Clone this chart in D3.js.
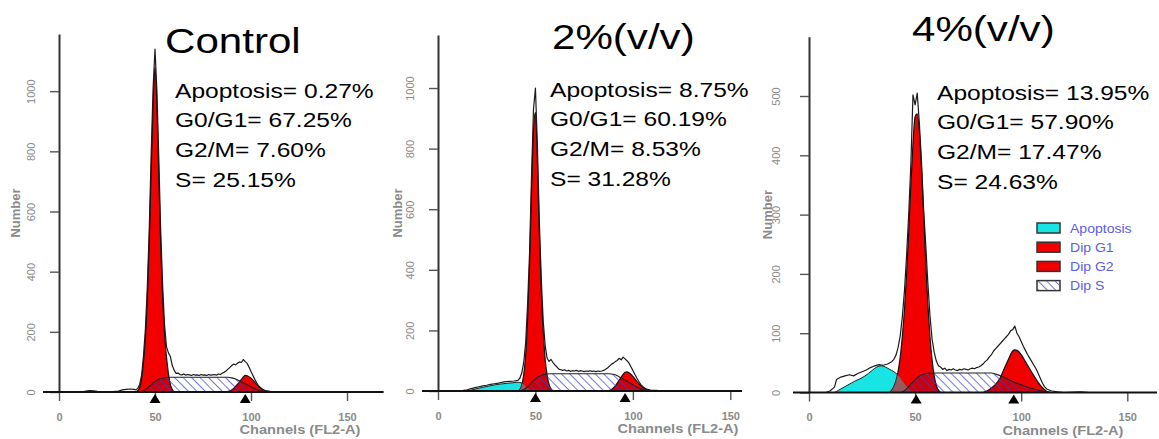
<!DOCTYPE html>
<html>
<head>
<meta charset="utf-8">
<script src="https://cdn.jsdelivr.net/npm/d3@7"></script>
<style>
  body { margin: 0; background: #fff; }
  svg { display: block; font-family: Arial, "Liberation Sans", sans-serif; }
</style>
</head>
<body>
<div id="chart"></div>
<script>
"use strict";
//panel titles and ModFit results
var titles = ["Control", "2%(v/v)", "4%(v/v)"];
var apoptosisPct = ["0.27%", "8.75%", "13.95%"];
var g0g1Pct = ["67.25%", "60.19%", "57.90%"];
var g2mPct = ["7.60%", "8.53%", "17.47%"];
var sPct = ["25.15%", "31.28%", "24.63%"];

//axis extents, channel means of the G1/G2 peaks
var yMax = [1190, 1175, 600];
var yMajor = [200, 200, 100];
var xMax = [169, 156, 164];
var xMajor = [0, 50, 100, 150];
var g1Mean = [50, 50, 50.5];
var g2Mean = [97, 96, 96.5];
var legendLabels = ["Apoptosis", "Dip G1", "Dip G2", "Dip S"];

//raw histograms, [channel, count]
var rawControl = [[0,0],[12,0],[14,3],[16,5],[18,4],[20,2],[22,1],[25,1],[28,1],[31,3],[33,7],[35,9],[37,10],[39,9],[40,7],[41,12],[42,25],[43,55],[44,120],[45,210],[46,350],[47,540],[48,790],[49,1010],[50,1140],[51,1000],[52,770],[53,530],[54,350],[55,220],[56,150],[57,130],[58,118],[59,88],[60,72],[61,62],[62,63],[63,58],[64,57],[65,60],[66,56],[67,58],[68,57],[69,55],[70,58],[71,56],[72,57],[73,55],[74,58],[75,56],[76,57],[77,55],[78,58],[79,56],[80,57],[81,58],[82,56],[83,60],[84,58],[85,62],[86,66],[87,70],[88,76],[89,82],[90,88],[91,93],[92,90],[93,96],[94,100],[95,98],[96,108],[97,101],[98,95],[99,82],[100,68],[101,55],[102,42],[103,30],[104,20],[105,13],[106,8],[107,5],[108,4],[110,2],[112,1],[115,0],[169,0]];
var raw2 = [[0,0],[10,0],[13,2],[15,4],[17,8],[19,11],[21,14],[23,17],[25,19],[27,22],[29,24],[31,26],[33,29],[35,31],[37,32],[39,33],[41,35],[42,42],[43,60],[44,95],[45,160],[46,290],[47,460],[48,710],[49,930],[50,1000],[51,810],[52,560],[53,370],[54,230],[55,150],[56,108],[57,98],[58,104],[59,94],[60,86],[61,80],[62,72],[63,70],[64,68],[65,70],[66,66],[67,68],[68,65],[69,67],[70,66],[71,68],[72,65],[73,67],[74,66],[75,64],[76,66],[77,65],[78,67],[79,65],[80,66],[81,64],[82,66],[83,65],[84,66],[85,68],[86,72],[87,76],[88,82],[89,88],[90,92],[91,97],[92,101],[93,108],[94,103],[95,112],[96,106],[97,100],[98,92],[99,80],[100,68],[101,55],[102,43],[103,32],[104,22],[105,15],[106,10],[107,6],[109,3],[112,2],[115,0],[156,0]];
var raw4 = [[0,0],[8,0],[10,3],[12,9],[13,22],[15,26],[17,28],[19,30],[21,28],[23,32],[25,35],[27,38],[29,42],[31,45],[33,47],[35,46],[37,48],[39,52],[40,56],[41,63],[42,76],[43,96],[44,128],[45,172],[46,232],[47,302],[48,385],[49,502],[50,485],[51,505],[52,455],[53,390],[54,310],[55,250],[56,185],[57,130],[58,90],[59,68],[60,53],[61,45],[62,43],[63,39],[64,41],[65,37],[66,39],[67,38],[68,40],[69,38],[70,37],[71,39],[72,38],[73,40],[74,39],[75,38],[76,40],[77,41],[78,40],[79,42],[80,43],[81,45],[82,48],[83,52],[84,55],[85,60],[86,64],[87,70],[88,74],[89,78],[90,82],[91,86],[92,90],[93,94],[94,98],[95,104],[96,106],[97,112],[98,100],[99,94],[100,86],[101,78],[102,71],[103,64],[104,58],[105,52],[106,46],[107,40],[108,32],[109,24],[110,16],[111,10],[112,6],[114,3],[117,1],[120,0],[128,1],[132,0],[164,0]];

//fitted components
var g1Control = [[40,0],[41,5],[42,15],[43,42],[44,100],[45,180],[46,310],[47,500],[48,730],[49,950],[50,1080],[51,950],[52,710],[53,480],[54,310],[55,190],[56,115],[57,60],[58,25],[59,8],[60,0]];
var g1_2 = [[41,0],[42,5],[43,20],[44,55],[45,120],[46,240],[47,420],[48,660],[49,860],[50,920],[51,760],[52,520],[53,330],[54,195],[55,105],[56,52],[57,22],[58,7],[59,0]];
var g1_4 = [[38,0],[39,4],[40,10],[41,20],[42,36],[43,60],[44,95],[45,140],[46,200],[47,270],[48,350],[49,420],[50,465],[51,470],[52,440],[53,380],[54,300],[55,220],[56,150],[57,95],[58,55],[59,28],[60,12],[61,4],[62,0]];

var g2Control = [[87,0],[89,4],[91,12],[93,26],[95,42],[96,50],[97,55],[98,54],[100,46],[102,32],[104,19],[106,9],[108,3],[110,0]];
var g2_2 = [[87,0],[89,5],[91,17],[93,36],[95,55],[96,62],[97,63],[98,60],[100,48],[102,32],[104,18],[106,8],[108,3],[110,0]];
var g2_4 = [[82,0],[85,5],[88,14],[90,24],[92,40],[94,56],[96,70],[97,72],[98,71],[100,64],[102,52],[104,40],[106,28],[108,17],[110,8],[112,2],[114,0]];

var sControl = [[42,0],[44,4],[46,12],[48,24],[50,35],[52,42],[54,46],[56,48],[58,49],[88,49],[90,47],[92,43],[94,37],[96,31],[98,24],[100,17],[102,11],[104,6],[106,2],[108,0]];
var s2 = [[42,0],[44,5],[46,14],[48,28],[50,40],[52,49],[54,54],[56,56],[58,57],[88,57],[90,55],[92,50],[94,43],[96,36],[98,28],[100,20],[102,13],[104,7],[106,3],[108,0]];
var s4 = [[43,0],[45,3],[47,10],[49,18],[51,25],[53,30],[55,32],[57,33],[86,33],[88,31],[91,27],[94,22],[97,17],[100,13],[103,9],[106,6],[109,3],[112,1],[114,0]];

var apopControl = [];
var apop2 = [[15,0],[17,3],[20,8],[23,12],[26,16],[29,20],[32,23],[35,25],[38,27],[41,29],[43,26],[45,15],[47,5],[49,0]];
var apop4 = [[12,0],[14,4],[16,8],[18,12],[20,16],[22,20],[24,23],[26,27],[28,32],[30,38],[32,43],[34,45],[36,43],[38,39],[40,35],[42,29],[44,20],[46,10],[48,3],[50,0]];

var raws = [rawControl, raw2, raw4];
var g1s = [g1Control, g1_2, g1_4];
var g2s = [g2Control, g2_2, g2_4];
var ss = [sControl, s2, s4];
var apops = [apopControl, apop2, apop4];

//pixel frames of the three plots (the source image is stretched ~1.17x horizontally)
var frames = [
  { left: 59, right: 383.5, top: 34, bottom: 392, title: [165, 53], stats: [175, 97.5], xLabel: 300, numX: -44, tickX: -28 },
  { left: 438, right: 742, top: 35, bottom: 391, title: [552, 49], stats: [550, 96.5], xLabel: 678, numX: -41, tickX: -28 },
  { left: 809, right: 1157, top: 36.7, bottom: 392.5, title: [912, 41], stats: [937, 99.5], xLabel: 1063, numX: -42, tickX: -33 }
];
var stretch = 1.17;
var red = "#f20000", cyan = "#18e4e4", gray = "#8a8a8a";

var svg = d3
  .select("#chart")
  .append("svg")
  .attr("width", 1159)
  .attr("height", 439);

var defs = svg.append("defs");
defs
  .append("pattern")
  .attr("id", "hatch")
  .attr("patternUnits", "userSpaceOnUse")
  .attr("width", 6)
  .attr("height", 6)
  .attr("patternTransform", "rotate(-45)")
  .append("line")
  .attr("x1", 0).attr("y1", 0)
  .attr("x2", 0).attr("y2", 6)
  .attr("stroke", "#3c3cc4")
  .attr("stroke-width", 1.4);

function drawPanel(i) {
  var f = frames[i];
  var x = d3.scaleLinear().domain([0, xMax[i]]).range([f.left, f.right]);
  var y = d3.scaleLinear().domain([0, yMax[i]]).range([f.bottom, f.top]);
  var g = svg.append("g");

  var area = d3
    .area()
    .curve(d3.curveMonotoneX)
    .x(function(d) { return x(d[0]); })
    .y0(y(0))
    .y1(function(d) { return y(d[1]); });
  var line = d3
    .line()
    .x(function(d) { return x(d[0]); })
    .y(function(d) { return y(d[1]); });

  //clip paths so overlaps can be tinted
  defs.append("clipPath").attr("id", "g1clip" + i)
    .append("path").attr("d", area(g1s[i]));
  var redClip = defs.append("clipPath").attr("id", "redclip" + i);
  redClip.append("path").attr("d", area(g1s[i]));
  redClip.append("path").attr("d", area(g2s[i]));

  if (apops[i].length) {
    g.append("path")
      .attr("d", area(apops[i]))
      .attr("fill", cyan)
      .attr("stroke", "#222")
      .attr("stroke-width", 1);
  }
  g.append("path")
    .attr("d", area(g1s[i]))
    .attr("fill", red)
    .attr("stroke", "#111")
    .attr("stroke-width", 1.2);
  g.append("path")
    .attr("d", area(g2s[i]))
    .attr("fill", red)
    .attr("stroke", "#111")
    .attr("stroke-width", 1.2);
  if (apops[i].length) {
    //apoptosis under the G1 peak shows as a brownish mix
    g.append("path")
      .attr("d", area(apops[i]))
      .attr("fill", "rgba(40,200,200,0.45)")
      .attr("clip-path", "url(#g1clip" + i + ")");
  }
  g.append("path")
    .attr("d", area(ss[i]))
    .attr("fill", "rgba(70,0,60,0.22)")
    .attr("clip-path", "url(#redclip" + i + ")");
  g.append("path")
    .attr("d", area(ss[i]))
    .attr("fill", "url(#hatch)")
    .attr("stroke", "#222")
    .attr("stroke-width", 1.1);

  g.append("path")
    .attr("d", line(raws[i]))
    .attr("fill", "none")
    .attr("stroke", "#1a1a1a")
    .attr("stroke-width", 1.2)
    .attr("stroke-linejoin", "round");

  //y axis: minor ticks every fifth of a major step
  var ya = g.append("g").attr("transform", "translate(" + f.left + ",0)");
  ya.call(
    d3.axisLeft(y)
      .tickValues(d3.range(0, yMax[i], yMajor[i] / 5))
      .tickSize(5)
      .tickSizeOuter(0)
      .tickFormat("")
  );
  ya.call(
    d3.axisLeft(y)
      .tickValues(d3.range(0, yMax[i], yMajor[i]))
      .tickSize(9)
      .tickSizeOuter(0)
      .tickFormat(d3.format("d"))
  );
  ya.selectAll(".domain").attr("stroke", "#333").attr("stroke-width", 2);
  ya.selectAll(".tick line").attr("stroke", "#555").attr("stroke-width", 1.4);
  ya.selectAll("text")
    .attr("x", 0)
    .attr("y", 0)
    .attr("dy", "0.35em")
    .attr("text-anchor", "middle")
    .attr("transform", "translate(" + f.tickX + ",0) rotate(-90)")
    .attr("fill", gray)
    .attr("font-size", 11)
    .attr("font-family", "Arial, 'Liberation Sans', sans-serif");

  //x axis
  var xa = g.append("g").attr("transform", "translate(0," + f.bottom + ")");
  xa.call(
    d3.axisBottom(x)
      .tickValues(d3.range(0, xMax[i], 10))
      .tickSize(5)
      .tickSizeOuter(0)
      .tickFormat("")
  );
  xa.call(
    d3.axisBottom(x)
      .tickValues(xMajor)
      .tickSize(9)
      .tickSizeOuter(0)
  );
  xa.selectAll(".domain").remove();
  xa.selectAll(".tick line").attr("stroke", "#555").attr("stroke-width", 1.4);
  xa.selectAll("text")
    .attr("y", 28.5)
    .attr("dy", 0)
    .attr("fill", gray)
    .attr("font-size", 11)
    .attr("font-weight", "bold")
    .attr("font-family", "Arial, 'Liberation Sans', sans-serif");
  g.append("line")
    .attr("x1", f.left - 16)
    .attr("x2", f.right)
    .attr("y1", f.bottom)
    .attr("y2", f.bottom)
    .attr("stroke", "#111")
    .attr("stroke-width", 2);

  //peak markers
  [g1Mean[i], g2Mean[i]].forEach(function(m) {
    var cx = x(m), b = f.bottom;
    g.append("path")
      .attr("d", "M" + (cx - 5.5) + "," + (b + 11) + "L" + (cx + 5.5) + "," + (b + 11) + "L" + cx + "," + (b + 2) + "Z")
      .attr("fill", "#000");
  });

  //axis titles
  g.append("text")
    .attr("transform", "translate(" + f.xLabel + "," + (f.bottom + 42) + ") scale(" + stretch + ",1)")
    .attr("text-anchor", "middle")
    .attr("font-size", 12.5)
    .attr("font-weight", "bold")
    .attr("fill", gray)
    .text("Channels (FL2-A)");
  g.append("text")
    .attr("transform", "translate(" + (f.left + f.numX) + "," + y(yMax[i] * 0.5) + ") rotate(-90)")
    .attr("text-anchor", "middle")
    .attr("dy", "0.35em")
    .attr("font-size", 13)
    .attr("font-weight", "bold")
    .attr("fill", gray)
    .text("Number");

  //panel title and results
  g.append("text")
    .attr("transform", "translate(" + f.title[0] + "," + f.title[1] + ") scale(" + stretch + ",1)")
    .attr("font-size", 36)
    .attr("fill", "#000")
    .text(titles[i]);
  var lines = [
    "Apoptosis= " + apoptosisPct[i],
    "G0/G1= " + g0g1Pct[i],
    "G2/M= " + g2mPct[i],
    "S= " + sPct[i]
  ];
  lines.forEach(function(t, k) {
    g.append("text")
      .attr("transform", "translate(" + f.stats[0] + "," + (f.stats[1] + k * 29.7) + ") scale(" + stretch + ",1)")
      .attr("font-size", 21)
      .attr("fill", "#000")
      .text(t);
  });
}

[0, 1, 2].forEach(drawPanel);

//legend, drawn in the last panel only
var legendFills = [cyan, red, red, "url(#hatch)"];
var lg = svg.append("g").attr("transform", "translate(1037,223)");
legendLabels.forEach(function(t, k) {
  var row = lg.append("g").attr("transform", "translate(0," + k * 19.2 + ")");
  row.append("rect")
    .attr("width", 23)
    .attr("height", 10)
    .attr("fill", k === 3 ? "#fff" : legendFills[k])
    .attr("stroke", "#333")
    .attr("stroke-width", 1.5);
  if (k === 3) {
    row.append("rect")
      .attr("width", 23)
      .attr("height", 10)
      .attr("fill", legendFills[k]);
  }
  row.append("text")
    .attr("transform", "translate(33,9.5) scale(" + stretch + ",1)")
    .attr("font-size", 12)
    .attr("fill", "#5b5bea")
    .text(t);
});
</script>
</body>
</html>
